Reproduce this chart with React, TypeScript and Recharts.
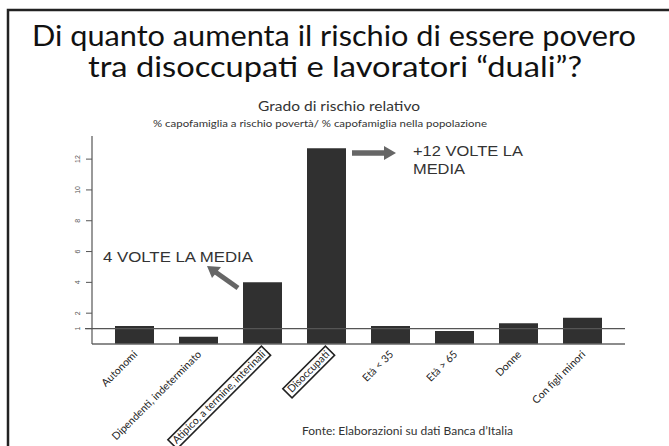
import React, { useLayoutEffect, useRef, useState } from 'react'
import { BarChart, Bar, XAxis, YAxis, ReferenceLine } from 'recharts'

// Grado di rischio relativo per gruppo
const categories = [
  'Autonomi',
  'Dipendenti, indeterminato',
  'Atipico, a termine, interinali',
  'Disoccupati',
  'Età < 35',
  'Età > 65',
  'Donne',
  'Con figli minori',
]
const riskValues = [1.17, 0.47, 4.0, 12.7, 1.17, 0.85, 1.35, 1.7]
const boxedCategories = ['Atipico, a termine, interinali', 'Disoccupati']
const yTicks = [1, 2, 4, 6, 8, 10, 12]
const averageLevel = 1

const chartData = categories.map((name, i) => ({ name, value: riskValues[i] }))

const XTick = (props: any) => {
  const { x, y, payload } = props
  const label: string = payload.value
  const boxed = boxedCategories.includes(label)
  const ref = useRef<SVGTextElement>(null)
  const [w, setW] = useState(0)
  useLayoutEffect(() => {
    if (ref.current) setW(ref.current.getComputedTextLength())
  }, [label])
  return (
    <g transform={`translate(${x + 4},${y + 11}) rotate(-45)`}>
      {boxed && w > 0 && (
        <rect x={-w - 3} y={-9.5} width={w + 6} height={13} fill="none" stroke="#222" strokeWidth={1.6} />
      )}
      <text ref={ref} x={0} y={0} textAnchor="end" fontFamily="Lato" fontSize={10.5} fill="#222">
        {label}
      </text>
    </g>
  )
}

const YTick = (props: any) => {
  const { x, y, payload } = props
  const tx = x - 4
  return (
    <text
      x={tx}
      y={y}
      transform={`rotate(-90 ${tx} ${y})`}
      textAnchor="middle"
      fontFamily="Liberation Sans"
      fontSize={7}
      fill="#555"
    >
      {payload.value}
    </text>
  )
}

const Overlay = () => (
  <svg width={669} height={446} style={{ position: 'absolute', left: 0, top: 0, pointerEvents: 'none' }}>
    <path d="M8,446 V10 H669" fill="none" stroke="#222" strokeWidth={2.5} />
    <text x={32} y={46} fontFamily="Lato" fontSize={28} fill="#111" textLength={604} lengthAdjust="spacingAndGlyphs">
      Di quanto aumenta il rischio di essere povero
    </text>
    <text x={88} y={77} fontFamily="Lato" fontSize={28} fill="#111" textLength={494} lengthAdjust="spacingAndGlyphs">
      tra disoccupati e lavoratori “duali”?
    </text>
    <text x={258} y={111} fontFamily="Lato" fontSize={13} fill="#333" textLength={162} lengthAdjust="spacingAndGlyphs">
      Grado di rischio relativo
    </text>
    <text x={153} y={127} fontFamily="Lato" fontSize={9} fill="#333" textLength={334} lengthAdjust="spacingAndGlyphs">
      % capofamiglia a rischio povertà/ % capofamiglia nella popolazione
    </text>
    <text x={302} y={435} fontFamily="Lato" fontSize={10.5} fill="#333" textLength={211} lengthAdjust="spacingAndGlyphs">
      Fonte: Elaborazioni su dati Banca d’Italia
    </text>

    <text x={103} y={262} fontFamily="Liberation Sans" fontSize={15} fill="#333" textLength={150} lengthAdjust="spacingAndGlyphs">
      4 VOLTE LA MEDIA
    </text>
    <line x1={238} y1={288} x2={214} y2={271} stroke="#666" strokeWidth={5} />
    <polygon points="207,266 221,267 212,278" fill="#666" />

    <text x={413} y={156} fontFamily="Liberation Sans" fontSize={15} fill="#333" textLength={110} lengthAdjust="spacingAndGlyphs">
      +12 VOLTE LA
    </text>
    <text x={413} y={174} fontFamily="Liberation Sans" fontSize={15} fill="#333" textLength={52} lengthAdjust="spacingAndGlyphs">
      MEDIA
    </text>
    <line x1={352} y1={153} x2={387} y2={153} stroke="#666" strokeWidth={5.5} />
    <polygon points="384,146 396,153 384,160" fill="#666" />
  </svg>
)

const App = () => {
  return (
    <div style={{ position: 'absolute', left: 0, top: 0, width: 669, height: 446, background: '#fff' }}>
      <BarChart
        width={669}
        height={446}
        data={chartData}
        margin={{ top: 136, right: 44, bottom: 72, left: 60 }}
      >
        <XAxis
          dataKey="name"
          height={30}
          interval={0}
          padding={{ left: 10, right: 11 }}
          tickLine={false}
          tickSize={0}
          tickMargin={0}
          axisLine={{ stroke: '#666', strokeWidth: 1.5 }}
          tick={<XTick />}
        />
        <YAxis
          width={32}
          domain={[0, 13.5]}
          ticks={yTicks}
          interval={0}
          tickSize={6}
          tickMargin={2}
          axisLine={{ stroke: '#555', strokeWidth: 1.2 }}
          tickLine={{ stroke: '#555' }}
          tick={<YTick />}
        />
        <ReferenceLine
          y={averageLevel}
          stroke="#555"
          strokeWidth={1.3}
          shape={(p: any) => (
            <line x1={p.x1 - 7} y1={p.y1} x2={p.x2} y2={p.y2} stroke="#555" strokeWidth={1.3} />
          )}
        />
        <Bar dataKey="value" fill="#303030" barSize={39} isAnimationActive={false} />
      </BarChart>
      <Overlay />
    </div>
  )
}

export default App
